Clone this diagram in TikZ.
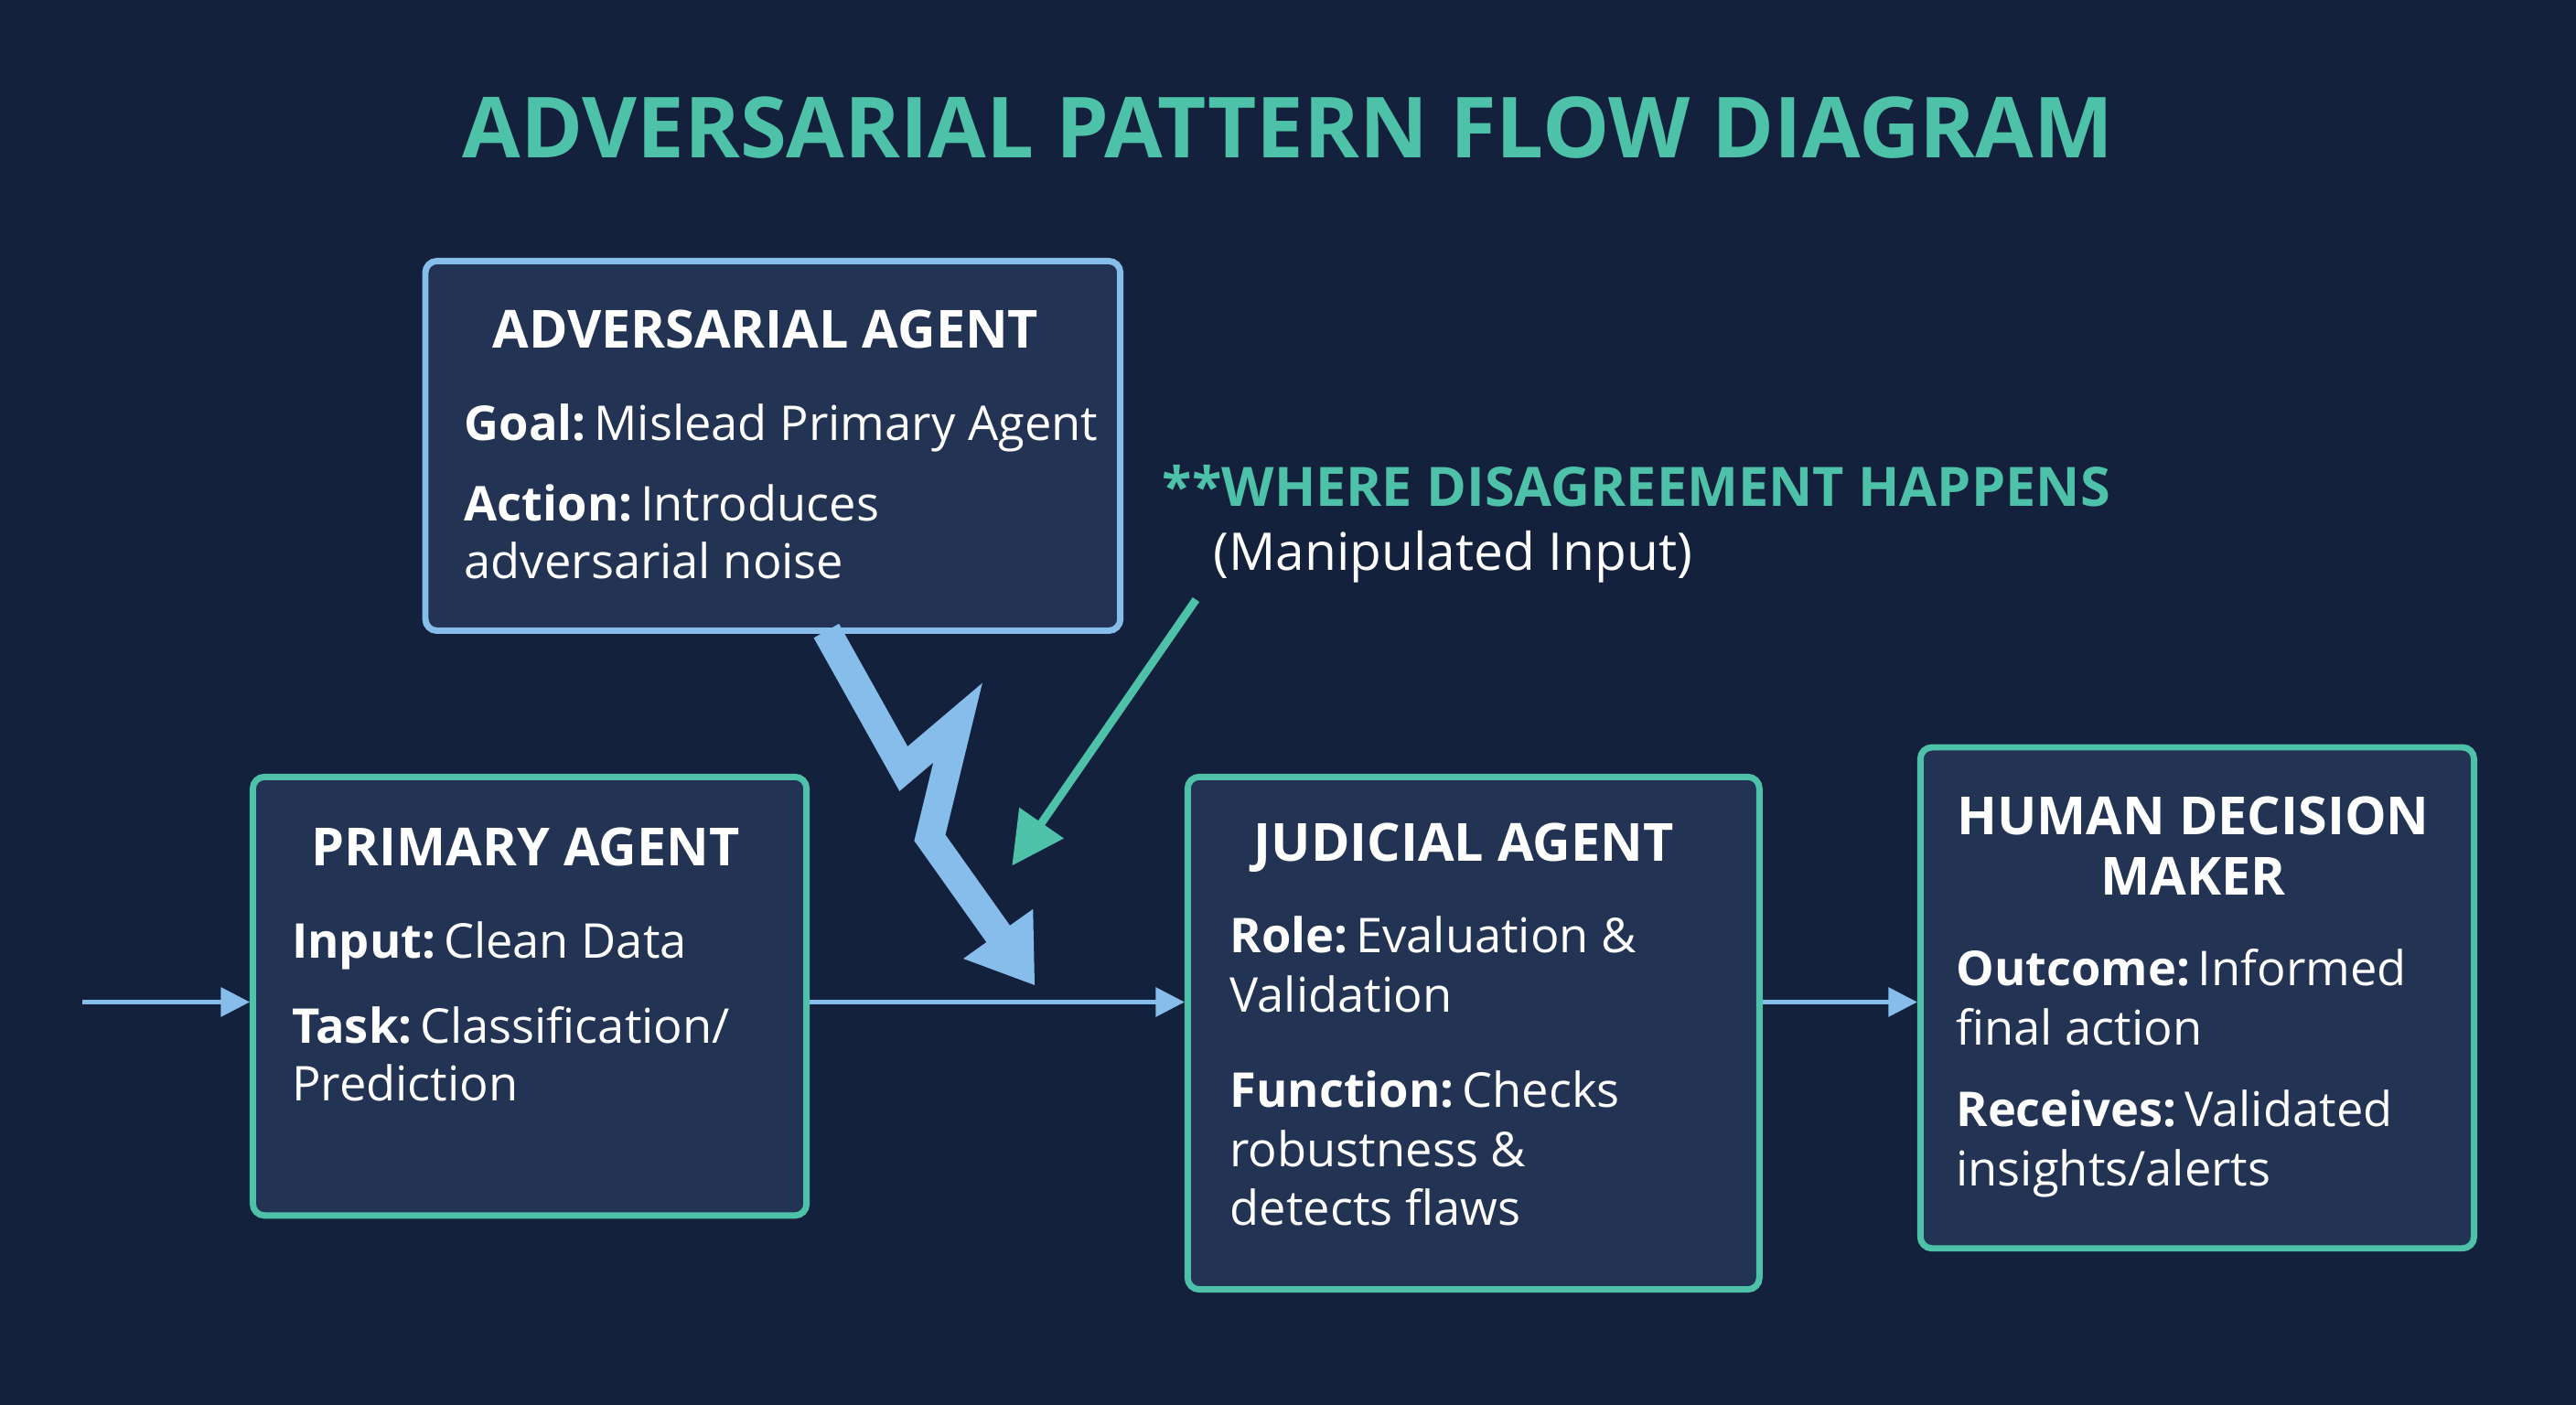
\documentclass[tikz,border=0pt]{standalone}
\usepackage{fontspec}
\setmainfont{Open Sans}
\usetikzlibrary{arrows.meta}
\definecolor{bg}{HTML}{14213D}
\definecolor{boxfill}{HTML}{223354}
\definecolor{teal}{HTML}{4EC2A8}
\definecolor{lblue}{HTML}{86BDEA}
\begin{document}
\begin{tikzpicture}[x=0.01cm,y=-0.01cm,
  box/.style={draw, line width=1.1pt, rounded corners=2pt, fill=boxfill, anchor=north west, inner sep=0},
  hd/.style={anchor=base, text=white, font=\bfseries\fontsize{9.1}{11}\selectfont},
  tx/.style={anchor=base west, text=white, font=\fontsize{8.3}{10}\selectfont, inner sep=0},
  con/.style={lblue, line width=0.7pt, -{Triangle[length=5pt,width=5pt]}}]
\fill[bg] (0,0) rectangle (1568,855);
\useasboundingbox (0,0) rectangle (1568,855);
\node[anchor=base, text=teal, font=\bfseries\fontsize{14.6}{18}\selectfont] (title) at (784,96) {ADVERSARIAL PATTERN FLOW DIAGRAM};
% boxes
\node[box, draw=lblue, minimum width=423*0.01cm, minimum height=225*0.01cm] (adv) at (257,157) {};
\node[box, draw=teal, minimum width=337*0.01cm, minimum height=267*0.01cm] (prim) at (152,471) {};
\node[box, draw=teal, minimum width=348*0.01cm, minimum height=312*0.01cm] (jud) at (721,471) {};
\node[box, draw=teal, minimum width=337*0.01cm, minimum height=305*0.01cm] (hum) at (1167,453) {};
% adversarial text
\node[hd] (ah) at (466,212) {ADVERSARIAL AGENT};
\node[tx] (a1) at (282,268) {\textbf{Goal:}\,Mislead Primary Agent};
\node[tx] (a2) at (282,317) {\textbf{Action:}\,Introduces};
\node[tx] (a3) at (282,352) {adversarial noise};
% primary
\node[hd] (ph) at (320,527) {PRIMARY AGENT};
\node[tx] (p1) at (177,583) {\textbf{Input:}\,Clean Data};
\node[tx] (p2) at (177,635) {\textbf{Task:}\,Classification/};
\node[tx] (p3) at (177,670) {Prediction};
% judicial
\node[hd] (jh) at (891,524) {JUDICIAL AGENT};
\node[tx] (j1) at (748,580) {\textbf{Role:}\,Evaluation \&};
\node[tx] (j2) at (748,616) {Validation};
\node[tx] (j3) at (748,674) {\textbf{Function:}\,Checks};
\node[tx] (j4) at (748,710) {robustness \&};
\node[tx] (j5) at (748,746) {detects flaws};
% human
\node[hd] (hh1) at (1335,508) {HUMAN DECISION};
\node[hd] (hh2) at (1335,545) {MAKER};
\node[tx] (h1) at (1190,600) {\textbf{Outcome:}\,Informed};
\node[tx] (h2) at (1190,636) {final action};
\node[tx] (h3) at (1190,686) {\textbf{Receives:}\,Validated};
\node[tx] (h4) at (1190,722) {insights/alerts};
% annotation
\node[anchor=base west, text=teal, font=\bfseries\fontsize{9.4}{11}\selectfont, inner sep=0] (w1) at (707,308) {**WHERE DISAGREEMENT HAPPENS};
\node[anchor=base west, text=white, font=\fontsize{9}{10}\selectfont, inner sep=0] (w2) at (738,347) {(Manipulated Input)};
% connectors
\coordinate (in) at (50,610);
\draw[con] (in) -- (prim.west |- in);
\draw[con] (prim.east |- in) -- (jud.west |- in);
\draw[con] (jud.east |- in) -- (hum.west |- in);
\coordinate (t0) at (728,365);
\coordinate (t1) at (616,527);
\draw[teal, line width=1.4pt, -{Triangle[length=9pt,width=9pt]}] (t0) -- (t1);
% lightning bolt
\coordinate (b0) at (503,384);
\coordinate (b1) at (550,468);
\coordinate (b2) at (583,440);
\coordinate (b3) at (566,510);
\coordinate (b4) at (630,600);
\draw[lblue, line width=5pt, line join=miter, -{Triangle[length=11pt,width=14pt]}] (b0) -- (b1) -- (b2) -- (b3) -- (b4);
\end{tikzpicture}
\end{document}
